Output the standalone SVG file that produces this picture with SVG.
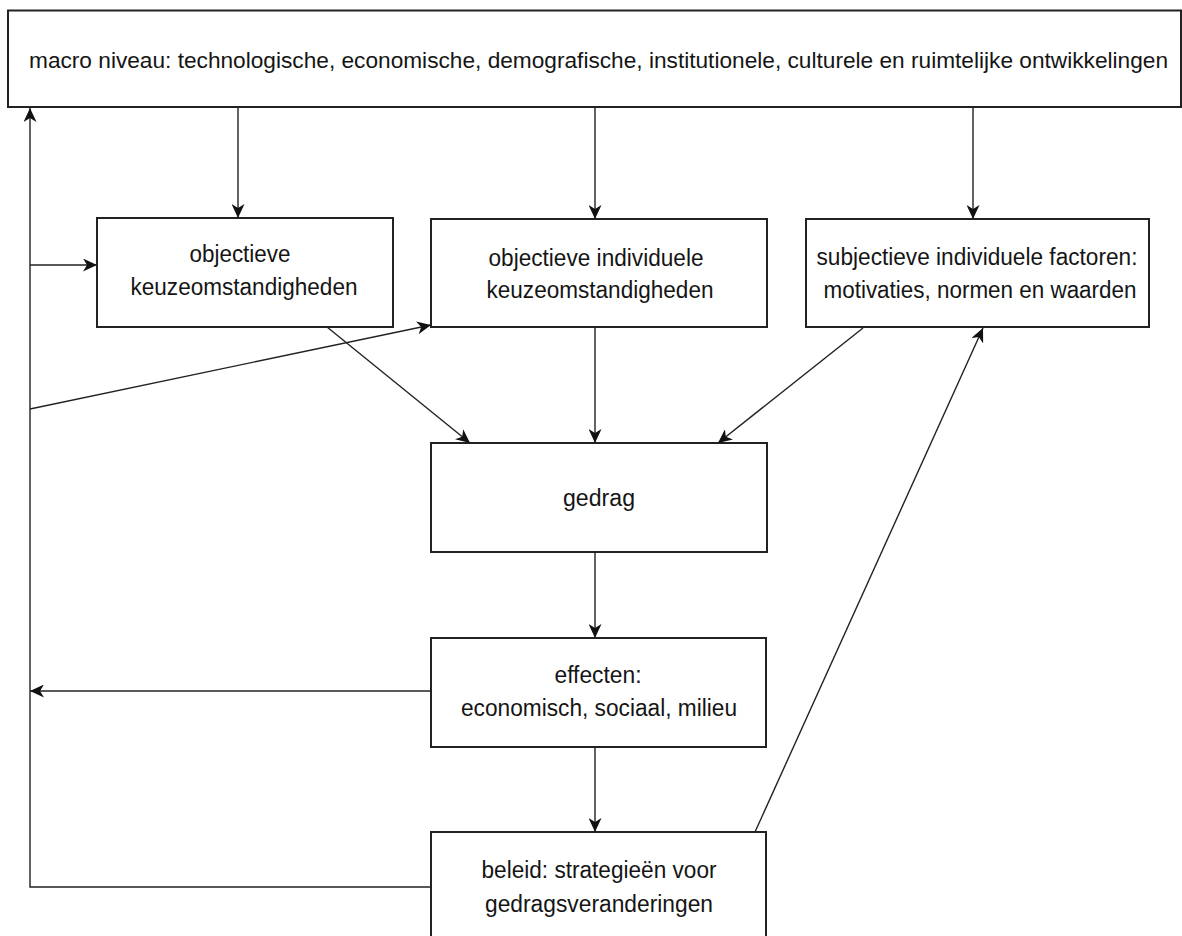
<svg xmlns="http://www.w3.org/2000/svg" width="1182" height="936" viewBox="0 0 1182 936">
<style>
.box{fill:#fff;stroke:#222;stroke-width:2}
.t{font-family:"Liberation Sans",Arial,sans-serif;font-size:23px;fill:#151515;text-anchor:middle}
.tl{font-family:"Liberation Sans",Arial,sans-serif;font-size:22.5px;fill:#151515}
.c{fill:none;stroke:#222;stroke-width:1.4}
</style>
<defs>
<marker id="ah" markerUnits="userSpaceOnUse" markerWidth="15" markerHeight="13" refX="14" refY="6.5" orient="auto">
<path d="M0,0 L14,6.5 L0,13 L4,6.5 Z" fill="#111"/>
</marker>
</defs>
<rect width="1182" height="936" fill="#fff"/>
<g id="macro">
<rect class="box" x="8" y="10.5" width="1173" height="96.5"/>
<text class="tl" x="29" y="68" textLength="1139" lengthAdjust="spacingAndGlyphs">macro niveau: technologische, economische, demografische, institutionele, culturele en ruimtelijke ontwikkelingen</text>
</g>
<g id="obj-keuze">
<rect class="box" x="97" y="218" width="296" height="109"/>
<text class="t" x="240" y="262" textLength="101" lengthAdjust="spacingAndGlyphs">objectieve</text>
<text class="t" x="244" y="295" textLength="227" lengthAdjust="spacingAndGlyphs">keuzeomstandigheden</text>
</g>
<g id="obj-ind">
<rect class="box" x="431" y="219" width="336" height="108"/>
<text class="t" x="596" y="266" textLength="215" lengthAdjust="spacingAndGlyphs">objectieve individuele</text>
<text class="t" x="600" y="298" textLength="227" lengthAdjust="spacingAndGlyphs">keuzeomstandigheden</text>
</g>
<g id="subj">
<rect class="box" x="806" y="219" width="343" height="108"/>
<text class="t" x="977" y="265" textLength="321" lengthAdjust="spacingAndGlyphs">subjectieve individuele factoren:</text>
<text class="t" x="980" y="298" textLength="313" lengthAdjust="spacingAndGlyphs">motivaties, normen en waarden</text>
</g>
<g id="gedrag">
<rect class="box" x="431" y="443" width="336" height="109"/>
<text class="t" x="599" y="506" textLength="72" lengthAdjust="spacingAndGlyphs">gedrag</text>
</g>
<g id="effecten">
<rect class="box" x="431" y="638" width="335" height="109"/>
<text class="t" x="598" y="683" textLength="87" lengthAdjust="spacingAndGlyphs">effecten:</text>
<text class="t" x="599" y="716" textLength="276" lengthAdjust="spacingAndGlyphs">economisch, sociaal, milieu</text>
</g>
<g id="beleid">
<rect class="box" x="431" y="832" width="335" height="110"/>
<text class="t" x="599" y="878" textLength="235" lengthAdjust="spacingAndGlyphs">beleid: strategieën voor</text>
<text class="t" x="599" y="912" textLength="228" lengthAdjust="spacingAndGlyphs">gedragsveranderingen</text>
</g>
<g id="connectors">
<line class="c" x1="238" y1="107" x2="238" y2="218" marker-end="url(#ah)"/>
<line class="c" x1="595" y1="107" x2="595" y2="219" marker-end="url(#ah)"/>
<line class="c" x1="973" y1="107" x2="973" y2="219" marker-end="url(#ah)"/>
<line class="c" x1="30" y1="265" x2="97" y2="265" marker-end="url(#ah)"/>
<line class="c" x1="30" y1="409" x2="431" y2="325" marker-end="url(#ah)"/>
<line class="c" x1="327" y1="327" x2="470" y2="443" marker-end="url(#ah)"/>
<line class="c" x1="595" y1="327" x2="595" y2="443" marker-end="url(#ah)"/>
<line class="c" x1="863" y1="328" x2="718" y2="443" marker-end="url(#ah)"/>
<line class="c" x1="595" y1="552" x2="595" y2="638" marker-end="url(#ah)"/>
<line class="c" x1="431" y1="691" x2="30" y2="691" marker-end="url(#ah)"/>
<line class="c" x1="595" y1="747" x2="595" y2="832" marker-end="url(#ah)"/>
<polyline class="c" points="431,887 30,887 30,108" marker-end="url(#ah)"/>
<line class="c" x1="755" y1="832" x2="983" y2="328" marker-end="url(#ah)"/>
</g>
</svg>
